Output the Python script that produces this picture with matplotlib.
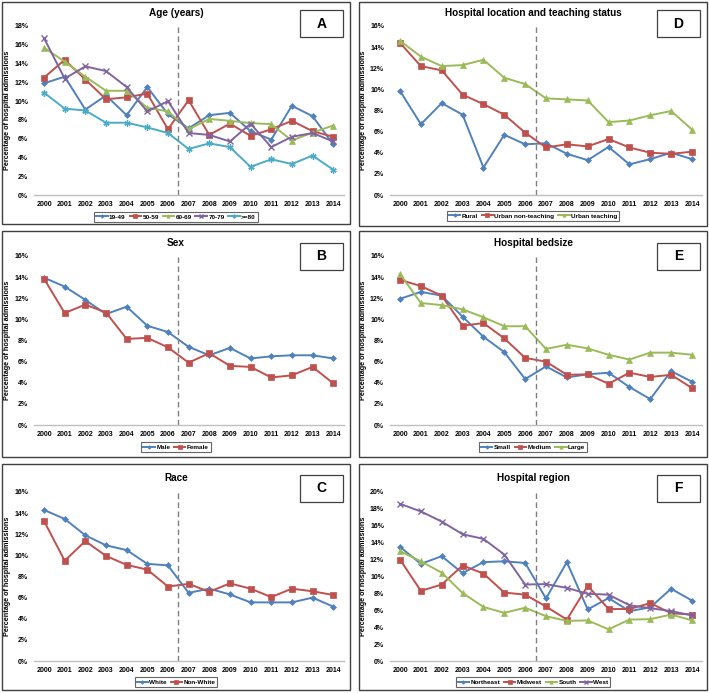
import matplotlib
matplotlib.use('Agg')
import matplotlib.pyplot as plt
from matplotlib.patches import Rectangle

plt.rcParams['font.family'] = ['Liberation Sans', 'DejaVu Sans']
plt.rcParams['font.weight'] = 'bold'

years = [str(y) for y in range(2000, 2015)]

# A - age
age_labels = ['19-49', '50-59', '60-69', '70-79', '>=80']
age_19_49 = [11.9, 12.6, 9.1, 10.6, 8.5, 11.5, 8.6, 7.1, 8.5, 8.75, 6.8, 5.9, 9.5, 8.4, 5.4]
age_50_59 = [12.5, 14.4, 12.3, 10.2, 10.4, 10.8, 7.0, 10.1, 6.4, 7.6, 6.3, 7.0, 7.9, 6.8, 6.2]
age_60_69 = [15.7, 14.2, 12.6, 11.1, 11.1, 9.3, 8.9, 7.0, 8.1, 7.9, 7.65, 7.55, 5.8, 6.65, 7.4]
age_70_79 = [16.7, 12.4, 13.7, 13.2, 11.5, 8.9, 10.0, 6.6, 6.4, 5.7, 7.6, 5.1, 6.2, 6.6, 5.7]
age_80 = [10.9, 9.2, 9.0, 7.7, 7.7, 7.2, 6.6, 4.9, 5.5, 5.1, 3.0, 3.8, 3.3, 4.2, 2.7]

# B - sex
sex_labels = ['Male', 'Female']
male = [13.95, 13.1, 11.85, 10.5, 11.2, 9.4, 8.8, 7.4, 6.6, 7.3, 6.3, 6.5, 6.6, 6.6, 6.3]
female = [13.85, 10.6, 11.4, 10.65, 8.15, 8.25, 7.35, 5.9, 6.8, 5.6, 5.5, 4.5, 4.7, 5.5, 3.95]

# C - race
race_labels = ['White', 'Non-White']
white = [14.3, 13.45, 11.9, 10.95, 10.5, 9.2, 9.05, 6.45, 6.85, 6.3, 5.55, 5.55, 5.55, 6.0, 5.15]
non_white = [13.25, 9.5, 11.35, 9.95, 9.1, 8.65, 7.05, 7.3, 6.55, 7.35, 6.85, 6.05, 6.85, 6.6, 6.25]

# D - location / teaching
loc_labels = ['Rural', 'Urban non-teaching', 'Urban teaching']
rural = [9.85, 6.7, 8.7, 7.6, 2.6, 5.7, 4.8, 4.9, 3.9, 3.3, 4.55, 2.9, 3.4, 4.0, 3.4]
urban_nonteach = [14.4, 12.2, 11.8, 9.5, 8.6, 7.6, 5.9, 4.5, 4.8, 4.6, 5.3, 4.5, 4.0, 3.9, 4.1]
urban_teach = [14.6, 13.1, 12.2, 12.3, 12.8, 11.1, 10.5, 9.15, 9.05, 8.95, 6.9, 7.05, 7.55, 7.95, 6.2]

# E - bedsize
bed_labels = ['Small', 'Medium', 'Large']
small = [11.95, 12.6, 12.25, 10.25, 8.35, 6.9, 4.35, 5.55, 4.5, 4.8, 4.95, 3.6, 2.45, 5.1, 4.1]
medium = [13.75, 13.15, 12.25, 9.4, 9.65, 8.2, 6.35, 6.0, 4.75, 4.8, 3.9, 4.95, 4.55, 4.75, 3.5]
large = [14.3, 11.55, 11.35, 10.95, 10.2, 9.35, 9.35, 7.2, 7.6, 7.25, 6.65, 6.2, 6.85, 6.85, 6.65]

# F - region
reg_labels = ['Northeast', 'Midwest', 'South', 'West']
northeast = [13.5, 11.5, 12.4, 10.4, 11.7, 11.8, 11.6, 7.4, 11.7, 6.1, 7.45, 5.9, 6.35, 8.55, 7.15]
midwest = [12.0, 8.3, 9.05, 11.3, 10.35, 8.1, 7.85, 6.45, 4.9, 8.9, 6.15, 6.15, 6.85, 5.65, 5.5]
south = [13.0, 11.8, 10.45, 8.05, 6.4, 5.7, 6.3, 5.3, 4.75, 4.8, 3.75, 4.9, 4.95, 5.5, 4.8]
west = [18.6, 17.7, 16.5, 15.0, 14.45, 12.6, 9.05, 9.1, 8.65, 7.95, 7.85, 6.6, 6.25, 5.9, 5.4]

colors = ['#4F81BD', '#C0504D', '#9BBB59', '#8064A2', '#4BACC6']
markers = ['D', 's', '^', 'x', (6, 2, 0)]
msizes = [3, 4, 4, 4, 4.5]

W, H = 709, 693
fig = plt.figure(figsize=(W / 100, H / 100), dpi=100)


def fx(x):
    return x / W


def fy(y):
    return 1 - y / H


def panel(frame, axbox, title, letter, labels, series, ymax, title_y, box_y, leg_y):
    fl, ft, fr, fb = frame
    fig.add_artist(Rectangle((fx(fl), fy(fb)), fx(fr - fl), (fb - ft) / H,
                             transform=fig.transFigure, fill=False,
                             edgecolor='#404040', lw=1.0))
    cx = (fl + fr) / 2
    fig.text(fx(cx), fy(title_y), title, ha='center', va='center', fontsize=7.2, fontweight='bold')
    # letter box
    bl, bt = fr - 50, box_y
    fig.add_artist(Rectangle((fx(bl), fy(bt + 27)), fx(43), 27 / H,
                             transform=fig.transFigure, fill=False,
                             edgecolor='#404040', lw=0.9))
    fig.text(fx(bl + 21.5), fy(bt + 13.5), letter, ha='center', va='center', fontsize=10, fontweight='bold')

    l, t, r, b = axbox
    ax = fig.add_axes([fx(l), fy(b), fx(r - l), (b - t) / H])
    x = range(len(years))
    for i, (lab, vals) in enumerate(zip(labels, series)):
        ax.plot(x, vals, color=colors[i], marker=markers[i], ms=msizes[i],
                mew=1.0 if i >= 3 else 0.5, lw=1.4, label=lab)
    ax.axvline(6.5, color='#808080', ls=(0, (4, 2.5)), lw=1.0)
    ax.set_xlim(-0.5, 14.5)
    ax.set_ylim(0, ymax)
    ax.set_yticks(range(0, ymax + 1, 2))
    ax.set_yticklabels([f'{v}%' for v in range(0, ymax + 1, 2)])
    ax.set_xticks(list(x))
    ax.set_xticklabels(years)
    ax.tick_params(axis='both', labelsize=5, length=0, pad=4)
    for s in ['top', 'right', 'left']:
        ax.spines[s].set_visible(False)
    ax.spines['bottom'].set_color('#BFBFBF')
    ax.spines['bottom'].set_linewidth(1.0)
    ax.set_ylabel('Percentage of hospital admissions', fontsize=5.2, fontweight='bold', labelpad=2.5)
    leg = ax.legend(loc='center', bbox_to_anchor=(fx(cx), fy(leg_y)),
                    bbox_transform=fig.transFigure, ncol=len(labels), fontsize=4.6,
                    frameon=True, fancybox=False, edgecolor='#404040',
                    handlelength=1.8, handletextpad=0.2, columnspacing=0.6,
                    borderpad=0.3, markerscale=0.6)
    leg.get_frame().set_linewidth(0.8)
    return ax


panel((2, 2, 350, 224), (33.7, 26, 343.5, 195), 'Age (years)', 'A', age_labels,
      [age_19_49, age_50_59, age_60_69, age_70_79, age_80], 18, 13, 10, 217)
panel((2, 231, 350, 457), (33.7, 256, 343.5, 425), 'Sex', 'B', sex_labels,
      [male, female], 16, 243, 243, 447)
panel((2, 464, 350, 690), (33.7, 492, 343.5, 661), 'Race', 'C', race_labels,
      [white, non_white], 16, 478, 475, 682)
panel((359, 2, 707, 226), (389.6, 26, 702.4, 195), 'Hospital location and teaching status', 'D',
      loc_labels, [rural, urban_nonteach, urban_teach], 16, 13, 10, 216)
panel((359, 231, 707, 457), (389.6, 256, 702.4, 425), 'Hospital bedsize', 'E', bed_labels,
      [small, medium, large], 16, 243, 243, 447)
panel((359, 464, 707, 690), (389.6, 492, 702.4, 661), 'Hospital region', 'F', reg_labels,
      [northeast, midwest, south, west], 20, 478, 475, 682)

fig.savefig('out.png', dpi=100, facecolor='white')
